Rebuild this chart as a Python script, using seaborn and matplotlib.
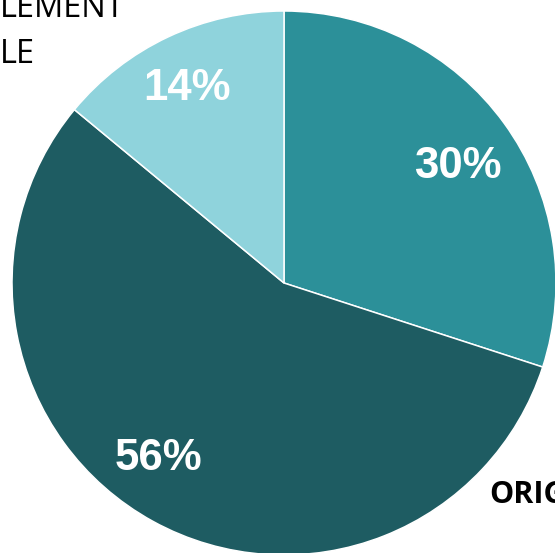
import matplotlib
matplotlib.use('Agg')
import matplotlib.pyplot as plt
import seaborn as sns

# Shares of the pie, clockwise from 12 o'clock
segments = ['Mid', 'Dark', 'Light']
shares = [30, 56, 14]
seg_colors = ['#2c9099', '#1e5c62', '#8fd3dc']

# Fragments of surrounding slide text that are visible in the crop
top_left_lines = ['LEMENT', 'LE']
bottom_right_text = 'ORIG'

sns.set_theme(style='white')
palette = sns.color_palette(seg_colors)

W, H = 555, 553
fig = plt.figure(figsize=(W / 100, H / 100), dpi=100)

# pie centre at (284, 283) px, radius 272 px
cx, cy, r = 284, 283, 272
ax = fig.add_axes([(cx - r) / W, (H - cy - r) / H, 2 * r / W, 2 * r / H])

wedges, texts, autotexts = ax.pie(
    shares,
    colors=palette,
    startangle=90,
    counterclock=False,
    autopct='%d%%',
    pctdistance=0.79,
    wedgeprops=dict(edgecolor='white', linewidth=1.1),
    textprops=dict(color='white', fontsize=31.5, fontweight='bold',
                   family='Liberation Sans'),
)
# label baselines as placed on the original slide
label_pos = [(0.640, 0.386), (-0.463, -0.688), (-0.357, 0.673)]
for t, p in zip(autotexts, label_pos):
    t.set_position(p)
    t.set_va('baseline')

ax.set_xlim(-1, 1)
ax.set_ylim(-1, 1)
ax.axis('off')

fig.text(0, 1 - 17 / H, top_left_lines[0], fontsize=23.5, family='Open Sans',
         color='black', va='baseline', ha='left')
fig.text(0, 1 - 63 / H, top_left_lines[1], fontsize=23.5, family='Open Sans',
         color='black', va='baseline', ha='left')
fig.text(489 / W, 1 - 503 / H, bottom_right_text, fontsize=22,
         family='Open Sans', fontweight='bold', color='black',
         va='baseline', ha='left')

fig.savefig('out.png', dpi=100)
